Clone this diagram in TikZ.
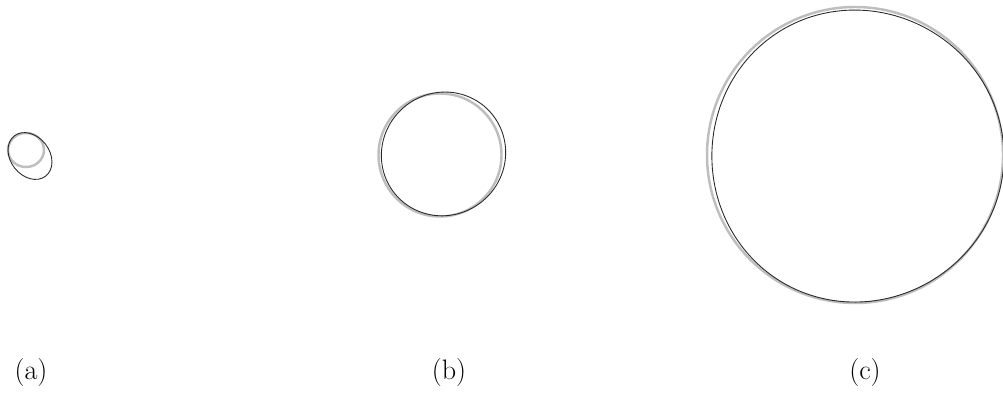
\documentclass[tikz,border=0pt]{standalone}
\usepackage{tikz}
\usetikzlibrary{positioning}
\usepackage{xcolor}
\definecolor{cellgray}{RGB}{190,190,190}
\definecolor{celldark}{RGB}{40,40,40}
\tikzset{
    before/.style={draw=cellgray, line width=1.4pt},
    after/.style={draw=celldark, line width=0.5pt},
    caption/.style={font=\fontsize{16}{19}\selectfont, inner sep=0pt},
}

\begin{document}
\begin{tikzpicture}[x=0.02cm, y=0.02cm]
    \useasboundingbox (0,0) rectangle (1003,393);
    % (a)
    \draw[before] (26,243) ellipse [x radius=18, y radius=17];
    \draw[after] (30,237) ellipse [x radius=25.5, y radius=19.5, rotate=-52];
    \node[caption] (capA) at (31,21) {(a)};
    % (b)
    \draw[before] (440,238) circle [radius=61.5];
    \draw[after, shift={(442,238)}] plot[smooth cycle, domain=0:355, samples=72, variable=\t]
        ({(62 + 1.8*cos(\t-35) + 0.8*cos(2*\t-80))*cos(\t)}, {(62 + 1.8*cos(\t-35) + 0.8*cos(2*\t-80))*sin(\t)});
    \node[caption] (capB) at (449,21) {(b)};
    % (c)
    \draw[before] (855,238) circle [radius=148];
    \draw[after, shift={(856,238)}] plot[smooth cycle, domain=0:355, samples=72, variable=\t]
        ({(146 + 1.5*cos(\t+45) + 0.8*cos(3*\t))*cos(\t)}, {(146 + 1.5*cos(\t+45) + 0.8*cos(3*\t))*sin(\t)});
    \node[caption] (capC) at (865,21) {(c)};
\end{tikzpicture}
\end{document}
